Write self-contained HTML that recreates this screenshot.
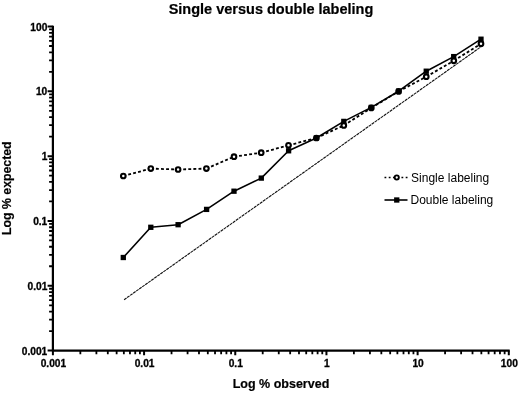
<!DOCTYPE html>
<html><head><meta charset="utf-8"><title>Single versus double labeling</title>
<style>
html,body{margin:0;padding:0;background:#fff;}
svg{display:block;}
text{font-family:"Liberation Sans",Arial,sans-serif;fill:#000;}
.b{font-weight:bold;}
</style></head><body>
<svg width="520" height="393" viewBox="0 0 520 393">
<rect width="520" height="393" fill="#fff"/>
<text class="b" stroke="#000" stroke-width="0.2" x="271" y="13.7" font-size="14.5" text-anchor="middle">Single versus double labeling</text>
<g stroke="#000" fill="none" stroke-linecap="butt">
<path d="M52.9,25.7 V350.6 " stroke-width="2.2"/>
<path d="M51.9,350.6 H509.7" stroke-width="2.1"/>
<path d="M47.6,350.60H52.9M52.90,350.6V355.2M47.6,285.78H52.9M144.08,350.6V355.2M47.6,220.96H52.9M235.26,350.6V355.2M47.6,156.14H52.9M326.44,350.6V355.2M47.6,91.32H52.9M417.62,350.6V355.2M47.6,26.50H52.9M508.80,350.6V355.2" stroke-width="2"/>
<path d="M49.1,331.09H52.9M80.35,350.6V354.2M49.1,319.67H52.9M96.40,350.6V354.2M49.1,311.57H52.9M107.80,350.6V354.2M49.1,305.29H52.9M116.63,350.6V354.2M49.1,300.16H52.9M123.85,350.6V354.2M49.1,295.82H52.9M129.96,350.6V354.2M49.1,292.06H52.9M135.24,350.6V354.2M49.1,288.75H52.9M139.91,350.6V354.2M49.1,266.27H52.9M171.53,350.6V354.2M49.1,254.85H52.9M187.58,350.6V354.2M49.1,246.75H52.9M198.98,350.6V354.2M49.1,240.47H52.9M207.81,350.6V354.2M49.1,235.34H52.9M215.03,350.6V354.2M49.1,231.00H52.9M221.14,350.6V354.2M49.1,227.24H52.9M226.42,350.6V354.2M49.1,223.93H52.9M231.09,350.6V354.2M49.1,201.45H52.9M262.71,350.6V354.2M49.1,190.03H52.9M278.76,350.6V354.2M49.1,181.93H52.9M290.16,350.6V354.2M49.1,175.65H52.9M298.99,350.6V354.2M49.1,170.52H52.9M306.21,350.6V354.2M49.1,166.18H52.9M312.32,350.6V354.2M49.1,162.42H52.9M317.60,350.6V354.2M49.1,159.11H52.9M322.27,350.6V354.2M49.1,136.63H52.9M353.89,350.6V354.2M49.1,125.21H52.9M369.94,350.6V354.2M49.1,117.11H52.9M381.34,350.6V354.2M49.1,110.83H52.9M390.17,350.6V354.2M49.1,105.70H52.9M397.39,350.6V354.2M49.1,101.36H52.9M403.50,350.6V354.2M49.1,97.60H52.9M408.78,350.6V354.2M49.1,94.29H52.9M413.45,350.6V354.2M49.1,71.81H52.9M445.07,350.6V354.2M49.1,60.39H52.9M461.12,350.6V354.2M49.1,52.29H52.9M472.52,350.6V354.2M49.1,46.01H52.9M481.35,350.6V354.2M49.1,40.88H52.9M488.57,350.6V354.2M49.1,36.54H52.9M494.68,350.6V354.2M49.1,32.78H52.9M499.96,350.6V354.2M49.1,29.47H52.9M504.63,350.6V354.2" stroke-width="1.8"/>
</g>
<g class="b" font-size="10.2" stroke="#000" stroke-width="0.3">
<text x="47.3" y="354.7" text-anchor="end">0.001</text>
<text x="47.3" y="289.9" text-anchor="end">0.01</text>
<text x="47.3" y="225.1" text-anchor="end">0.1</text>
<text x="47.3" y="160.2" text-anchor="end">1</text>
<text x="47.3" y="95.4" text-anchor="end">10</text>
<text x="47.3" y="30.6" text-anchor="end">100</text>
<text x="53.4" y="367.1" text-anchor="middle">0.001</text>
<text x="144.6" y="367.1" text-anchor="middle">0.01</text>
<text x="235.8" y="367.1" text-anchor="middle">0.1</text>
<text x="326.9" y="367.1" text-anchor="middle">1</text>
<text x="418.1" y="367.1" text-anchor="middle">10</text>
<text x="509.3" y="367.1" text-anchor="middle">100</text>
</g>
<text class="b" stroke="#000" stroke-width="0.2" x="281" y="388.4" font-size="12.5" text-anchor="middle">Log % observed</text>
<text class="b" stroke="#000" stroke-width="0.2" transform="translate(10.5,188.2) rotate(-90)" font-size="12.3" text-anchor="middle">Log % expected</text>
<path d="M124.1,299.7L481.4,46.5" stroke="#111" stroke-width="1.1" stroke-dasharray="3 0.7" fill="none"/>
<path d="M123.3,176.0L150.8,168.6M150.8,168.6L178.1,169.5M178.1,169.5L206.4,168.6M206.4,168.6L234.0,156.7M234.0,156.7L261.2,152.7M261.2,152.7L288.5,145.3M288.5,145.3L316.4,138.0M316.4,138.0L343.8,125.4M343.8,125.4L371.3,107.9M371.3,107.9L398.6,91.4M398.6,91.4L426.25,76.7M426.25,76.7L453.8,60.8M453.8,60.8L481.0,43.7" fill="none" stroke="#000" stroke-width="1.8" stroke-dasharray="2.9 2.2"/>
<polyline points="123.3,257.5 150.8,227.3 178.1,224.7 206.6,209.4 234.0,191.2 261.3,178.1 288.6,150.8 316.4,138.0 343.8,121.4 371.3,107.4 398.6,91.2 426.25,71.2 453.7,56.6 481.0,39.2" fill="none" stroke="#000" stroke-width="1.6" stroke-linejoin="round"/>
<rect x="120.65" y="254.85" width="5.3" height="5.3" fill="#000"/>
<rect x="148.15" y="224.65" width="5.3" height="5.3" fill="#000"/>
<rect x="175.45" y="222.05" width="5.3" height="5.3" fill="#000"/>
<rect x="203.95" y="206.75" width="5.3" height="5.3" fill="#000"/>
<rect x="231.35" y="188.55" width="5.3" height="5.3" fill="#000"/>
<rect x="258.65" y="175.45" width="5.3" height="5.3" fill="#000"/>
<rect x="285.95" y="148.15" width="5.3" height="5.3" fill="#000"/>
<rect x="313.75" y="135.35" width="5.3" height="5.3" fill="#000"/>
<rect x="341.15" y="118.75" width="5.3" height="5.3" fill="#000"/>
<rect x="368.65" y="104.75" width="5.3" height="5.3" fill="#000"/>
<rect x="395.95" y="88.55" width="5.3" height="5.3" fill="#000"/>
<rect x="423.60" y="68.55" width="5.3" height="5.3" fill="#000"/>
<rect x="451.05" y="53.95" width="5.3" height="5.3" fill="#000"/>
<rect x="478.35" y="36.55" width="5.3" height="5.3" fill="#000"/>
<circle cx="123.3" cy="176.0" r="2.3" fill="#fff" stroke="#000" stroke-width="2.1"/>
<circle cx="150.8" cy="168.6" r="2.3" fill="#fff" stroke="#000" stroke-width="2.1"/>
<circle cx="178.1" cy="169.5" r="2.3" fill="#fff" stroke="#000" stroke-width="2.1"/>
<circle cx="206.4" cy="168.6" r="2.3" fill="#fff" stroke="#000" stroke-width="2.1"/>
<circle cx="234.0" cy="156.7" r="2.3" fill="#fff" stroke="#000" stroke-width="2.1"/>
<circle cx="261.2" cy="152.7" r="2.3" fill="#fff" stroke="#000" stroke-width="2.1"/>
<circle cx="288.5" cy="145.3" r="2.3" fill="#fff" stroke="#000" stroke-width="2.1"/>
<circle cx="316.4" cy="138.0" r="2.3" fill="none" stroke="#000" stroke-width="2.1"/>
<circle cx="343.8" cy="125.4" r="2.3" fill="#fff" stroke="#000" stroke-width="2.1"/>
<circle cx="371.3" cy="107.9" r="2.3" fill="none" stroke="#000" stroke-width="2.1"/>
<circle cx="398.6" cy="91.4" r="2.3" fill="none" stroke="#000" stroke-width="2.1"/>
<circle cx="426.25" cy="76.7" r="2.3" fill="#fff" stroke="#000" stroke-width="2.1"/>
<circle cx="453.8" cy="60.8" r="2.3" fill="#fff" stroke="#000" stroke-width="2.1"/>
<circle cx="481.0" cy="43.7" r="2.3" fill="#fff" stroke="#000" stroke-width="2.1"/>
<path d="M384.5,177.5H407.5" stroke="#000" stroke-width="1.6" stroke-dasharray="1.8 2.44" fill="none"/>
<circle cx="396.75" cy="177.5" r="2.1" fill="#fff" stroke="#000" stroke-width="1.9"/>
<path d="M384.5,200H407.5" stroke="#000" stroke-width="1.6" fill="none"/>
<rect x="394.1" y="197.35" width="5.3" height="5.3" fill="#000"/>
<text x="411.1" y="181.6" font-size="12">Single labeling</text>
<text x="410.5" y="204.1" font-size="12">Double labeling</text>
</svg></body></html>
